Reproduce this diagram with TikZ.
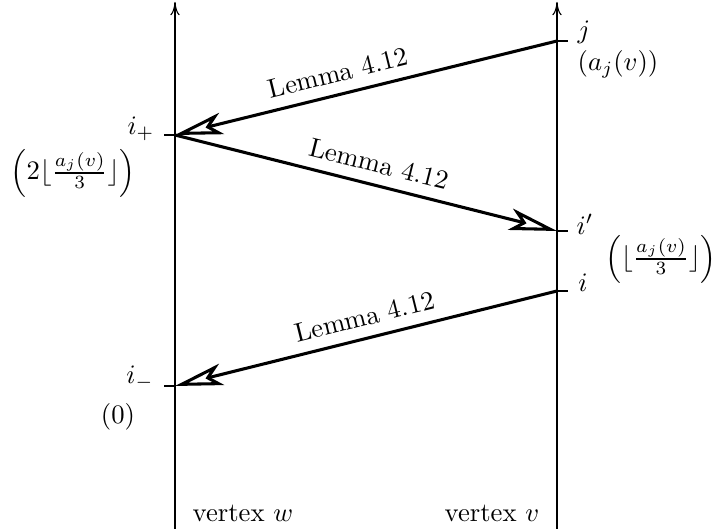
\documentclass[tikz,border=0pt]{standalone}
\usetikzlibrary{arrows.meta}
\begin{document}
\begin{tikzpicture}[x=0.375pt,y=-0.375pt,
  axis/.style={line width=0.4pt,-{To[length=5pt,width=3.5pt]}},
  tickmark/.style={line width=0.4pt},
  lemarrow/.style={line width=1.15pt,-{Stealth[open,length=18pt,width=8.2pt,inset=4.5pt]}},
  lemlabel/.style={sloped,above=3pt,inner sep=1pt},
  every node/.append style={inner sep=1pt},
  ]
\useasboundingbox (0,0) rectangle (713,529);
% axes
\coordinate (wbot) at (175,529);
\coordinate (wtop) at (175,2);
\coordinate (vbot) at (557,529);
\coordinate (vtop) at (557,2);
\draw[axis] (wbot) -- (wtop);
\draw[axis] (vbot) -- (vtop);
% points
\coordinate (j) at (557,41);
\coordinate (ip) at (175,135);
\coordinate (iq) at (557,231);
\coordinate (i) at (557,291);
\coordinate (im) at (175,386);
% tick ends
\coordinate (jt) at (568,41);
\coordinate (ipt) at (164,135);
\coordinate (iqt) at (568,231);
\coordinate (it) at (568,291);
\coordinate (imt) at (164,386);
\draw[tickmark] (j) -- (jt);
\draw[tickmark] (ip) -- (ipt);
\draw[tickmark] (iq) -- (iqt);
\draw[tickmark] (i) -- (it);
\draw[tickmark] (im) -- (imt);
% lemma arrows
\draw[lemarrow] (j) -- node[lemlabel,pos=0.56] (l1) {Lemma 4.12} (ip);
\draw[lemarrow] (ip) -- node[lemlabel,pos=0.52] (l2) {Lemma 4.12} (iq);
\draw[lemarrow] (i) -- node[lemlabel,pos=0.49] (l3) {Lemma 4.12} (im);
% labels
\node (jlab) at (584,32) {$j$};
\node (ajlab) at (618,64) {$(a_j(v))$};
\node (iplab) at (141,129) {$i_+$};
\node (ipval) at (73,173) {$\left(2\lfloor\frac{a_j(v)}{3}\rfloor\right)$};
\node (iqlab) at (585,224) {$i'$};
\node (iqval) at (661,259) {$\left(\lfloor\frac{a_j(v)}{3}\rfloor\right)$};
\node (ilab) at (583,283) {$i$};
\node (imlab) at (140,378) {$i_-$};
\node (imval) at (118,417) {$(0)$};
\node[anchor=base] (wlab) at (243,522) {vertex $w$};
\node[anchor=base] (vlab) at (492,522) {vertex $v$};
\end{tikzpicture}
\end{document}
